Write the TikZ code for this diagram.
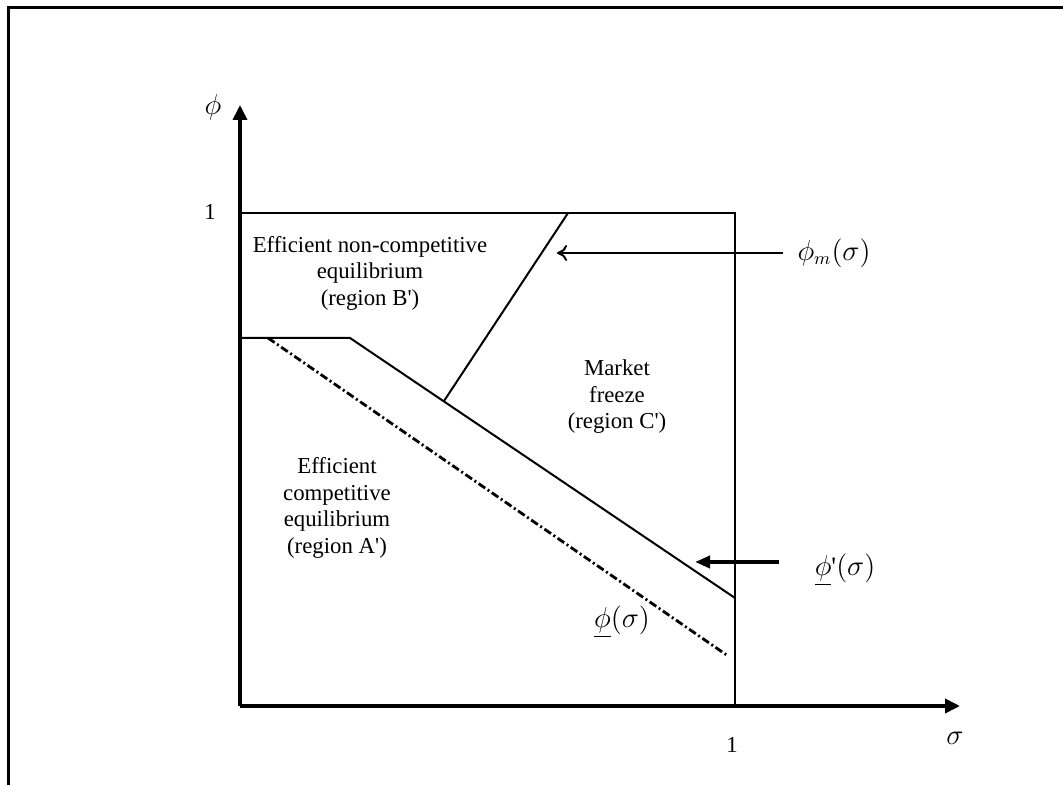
\documentclass[tikz,border=0pt]{standalone}
\usepackage{amsmath}
\usepackage{amssymb}
\usepackage{fontspec}
\setmainfont{Liberation Serif}
\usetikzlibrary{arrows.meta}

\begin{document}
\begin{tikzpicture}[x=0.5pt,y=-0.5pt,font=\fontsize{11.4}{13.25}\selectfont,
    region/.style={align=center},
    curvelabel/.style={font=\fontsize{13.3}{16}\selectfont}]
            \useasboundingbox (0,0) rectangle (1063,785);
            \draw[line width=1.5pt] (8,785) -- (8,8) -- (1063,8);

            \coordinate (O) at (240,706);
            \coordinate (Ytop) at (240,105);
            \coordinate (Xend) at (960,706);
            \coordinate (TL) at (240,213);
            \coordinate (TR) at (735,213);
            \coordinate (BR) at (735,706);
            \coordinate (L) at (240,338);
            \coordinate (K) at (350,338);
            \coordinate (E) at (735,598);
            \coordinate (M) at (444,401);
            \coordinate (N) at (568,213);
            \coordinate (P) at (268,338);
            \coordinate (Q) at (728,656);
            \coordinate (mstart) at (783,253);
            \coordinate (mtip) at (557,253);
            \coordinate (pstart) at (779,562);
            \coordinate (ptip) at (695,562);

            \draw[line width=1pt] (TL) -- (TR) -- (BR);
            \draw[line width=1pt] (L) -- (K) -- (E);
            \draw[line width=1pt] (M) -- (N);
            \draw[line width=1.4pt, dash pattern=on 4pt off 1.5pt on 1pt off 1.5pt] (P) -- (Q);
            \draw[line width=1.8pt, -{Triangle[width=7pt,length=7.5pt]}] (O) -- (Ytop);
            \draw[line width=1.8pt, -{Triangle[width=7pt,length=7.5pt]}] (O) -- (Xend);

            \node (phi) at (213,107) {\fontsize{13.3}{16}\selectfont$\phi$};
            \node (sigma) at (955,738) {\fontsize{13.3}{16}\selectfont$\sigma$};
            \node (oney) at (210,212) {\fontsize{11.4}{13}\selectfont 1};
            \node (onex) at (732,745) {\fontsize{11.4}{13}\selectfont 1};

            \node[region] (B) at (370,273) {Efficient non-competitive\\equilibrium\\(region B\textquotesingle)};
            \node[region] (C) at (617,397) {Market\\freeze\\(region C\textquotesingle)};
            \node[region] (A) at (337,508) {Efficient\\competitive\\equilibrium\\(region A\textquotesingle)};

            \node[curvelabel] (phim) at (834,253) {$\phi_m(\sigma)$};
            \node[curvelabel] (phiup) at (845,570) {$\underline{\phi}$\textquotesingle$(\sigma)$};
            \node[curvelabel] (phiu) at (622,622) {$\underline{\phi}(\sigma)$};

            \draw[line width=1pt, -{To[length=5pt,width=8pt]}] (mstart) -- (mtip);
            \draw[line width=2pt, -{Triangle[width=6pt,length=7.5pt]}] (pstart) -- (ptip);
        \end{tikzpicture}
\end{document}
